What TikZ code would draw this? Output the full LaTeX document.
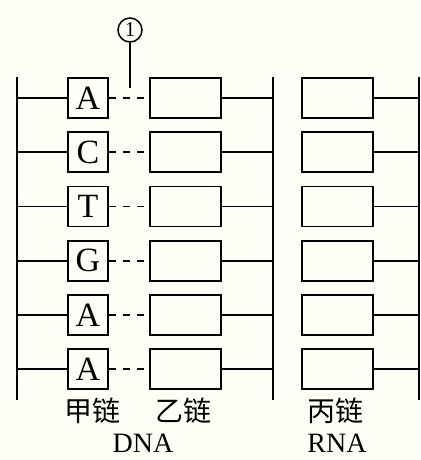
\documentclass[tikz,border=0pt]{standalone}
\usepackage{fontspec}
\setmainfont{Liberation Serif}
\newfontfamily\cjk{Noto Sans CJK SC}
\begin{document}
\begin{tikzpicture}[x=1pt,y=-1pt, line width=1.8pt,
  base/.style={draw, minimum width=40pt, minimum height=40pt, inner sep=0pt, font=\fontsize{34}{34}\selectfont},
  slot/.style={draw, minimum width=71pt, minimum height=40pt, inner sep=0pt},
  lbl/.style={inner sep=0pt, font=\fontsize{28}{28}\selectfont},
  hbond/.style={dash pattern=on 7pt off 7pt},
  strand/.style={line width=2.2pt}]
\fill[yellow!3] (0,0) rectangle (420,460);
\useasboundingbox (0,0) rectangle (420,460);
% backbones
\coordinate (b1t) at (17,77);  \coordinate (b1b) at (17,400);
\coordinate (b2t) at (273,77); \coordinate (b2b) at (273,400);
\coordinate (b3t) at (419,77); \coordinate (b3b) at (419,400);
\draw[strand] (b1t) -- (b1b);
\draw[strand] (b2t) -- (b2b);
\draw[strand] (b3t) -- (b3b);
\foreach \b [count=\i] in {A,C,T,G,A,A} {
  \pgfmathsetmacro\yy{98+54.2*(\i-1)}
  \node[base] (p\i) at (88,\yy) {\b};
  \node[slot] (q\i) at (185.5,\yy) {};
  \node[slot] (r\i) at (337.5,\yy) {};
  \coordinate (l\i) at (17,\yy);
  \coordinate (m\i) at (273,\yy);
  \coordinate (n\i) at (419,\yy);
  \draw (l\i) -- (p\i.west);
  \draw[hbond] (p\i.east) -- (q\i.west);
  \draw (q\i.east) -- (m\i);
  \draw (r\i.east) -- (n\i);
}
% marker 1
\node[draw, circle, line width=1.5pt, minimum size=24pt, inner sep=0pt, font=\fontsize{21}{21}\selectfont] (c1) at (130,30) {1};
\coordinate (c1e) at (130,88);
\draw[line width=1.6pt] (c1.south) -- (c1e);
% labels
\node[lbl] (t1) at (92,411) {\cjk 甲链};
\node[lbl] (t2) at (183,411) {\cjk 乙链};
\node[lbl] (t3) at (335,411) {\cjk 丙链};
\node[lbl] (t4) at (143,443) {DNA};
\node[lbl] (t5) at (337,443) {RNA};
\end{tikzpicture}
\end{document}
